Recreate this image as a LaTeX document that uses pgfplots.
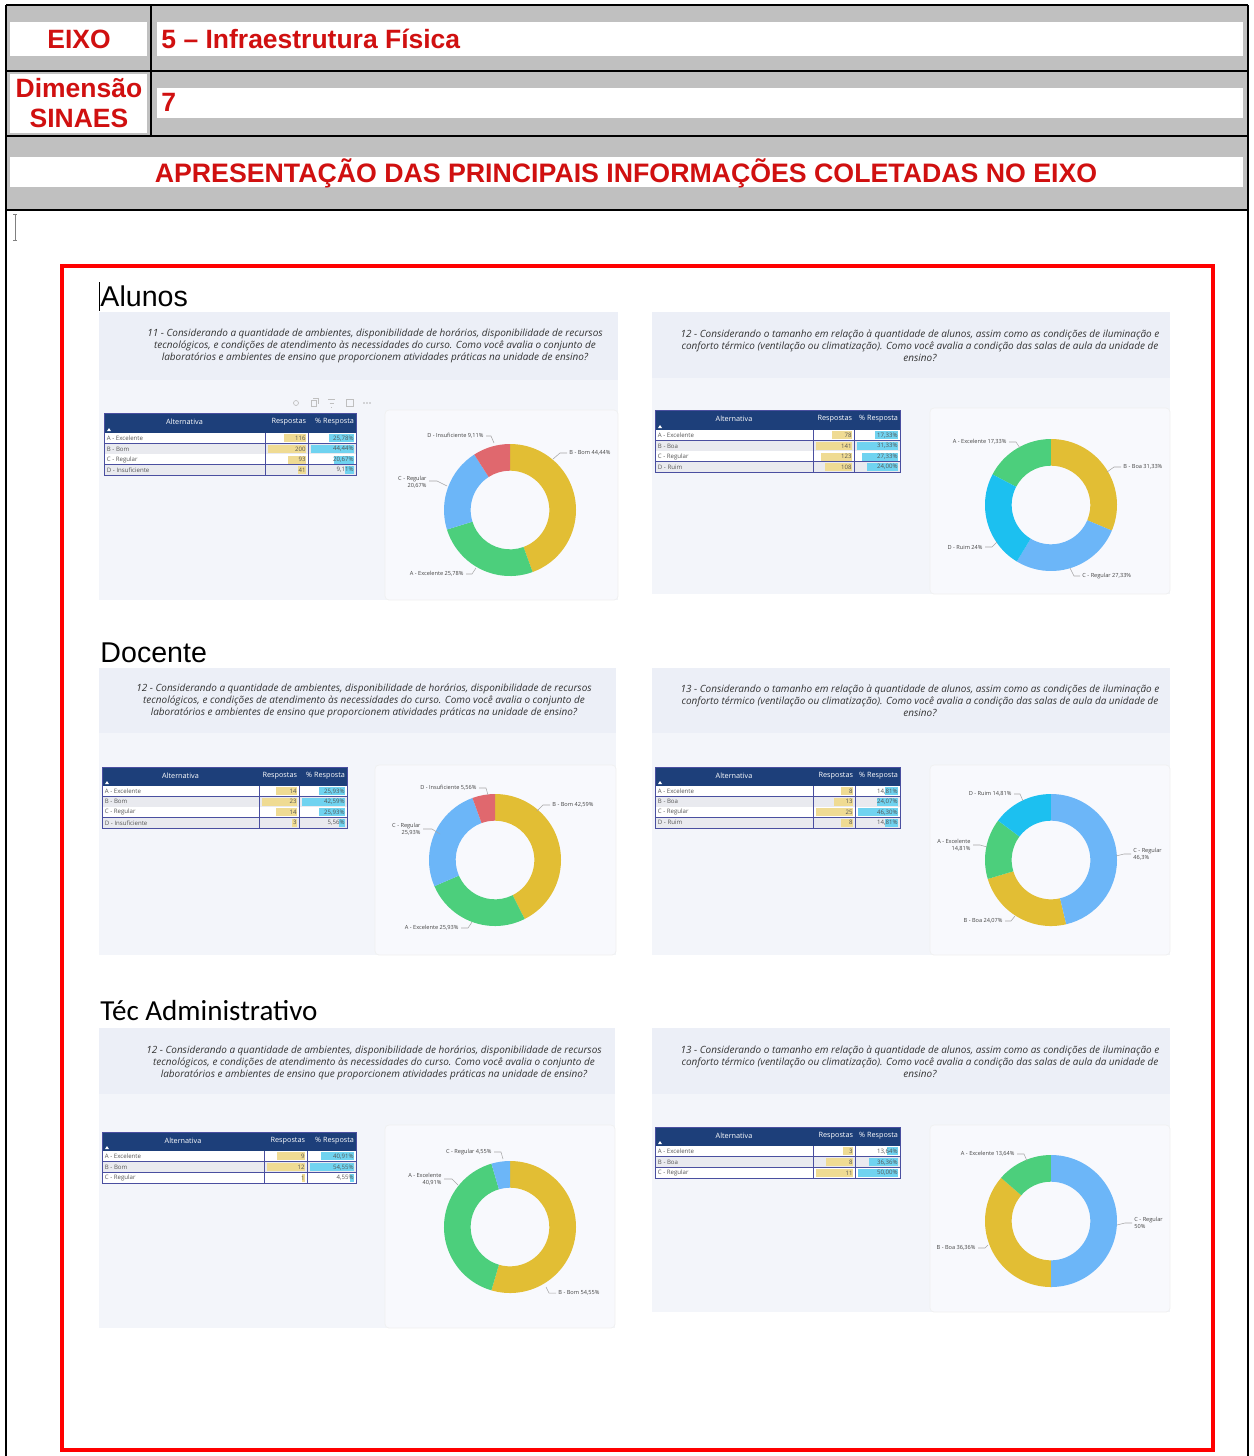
\documentclass[border=0pt]{standalone}
\usepackage{pgfplots}
\pgfplotsset{compat=1.18}
\usepackage{pgfplotstable}
\usepackage{fontspec}
\setmainfont{Liberation Sans}
\newfontfamily\calibri{Carlito}
\newfontfamily\segoe{Open Sans}
\definecolor{hred}{HTML}{D01010}
\definecolor{hgray}{HTML}{C0C0C0}
\definecolor{pband}{HTML}{ECEFF7}
\definecolor{pbody}{HTML}{F3F5FA}
\definecolor{pcard}{HTML}{F8F9FD}
\definecolor{thead}{HTML}{1D3F7A}
\definecolor{tline}{HTML}{4A4FA0}
\definecolor{trow}{HTML}{E9EAEF}
\definecolor{ttext}{HTML}{555555}
\definecolor{cyel}{HTML}{E2BE34}
\definecolor{cgrn}{HTML}{4CCF7C}
\definecolor{cblu}{HTML}{6CB6F8}
\definecolor{cred}{HTML}{E0686E}
\definecolor{ccya}{HTML}{1CC0F0}
\definecolor{byel}{HTML}{EFDB93}
\definecolor{bblu}{HTML}{70D3F0}
\definecolor{qtext}{HTML}{333333}
\definecolor{ltext}{HTML}{444444}

\newcommand\Rout{9.9mm}
\newcommand\Rin{5.9mm}
\pgfdeclareplotmark{wedge}{%
  \pgfpathmoveto{\pgfpointpolar{\angA}{\Rout}}%
  \pgfpatharc{\angA}{\angB}{\Rout}%
  \pgfpathlineto{\pgfpointpolar{\angB}{\Rin}}%
  \pgfpatharc{\angB}{\angA}{\Rin}%
  \pgfpathclose
  \pgfusepathqfill}
\pgfdeclareplotmark{hbar}{%
  \pgfpathrectangle{\pgfpoint{-\barlen pt}{-1.7pt}}{\pgfpoint{\barlen pt}{3.4pt}}%
  \pgfusepathqfill}
\pgfplotsset{
  slice/.style={scatter, only marks, mark=wedge,
    scatter/@pre marker code/.code={\pgfsetfillcolor{#1}},
    scatter/@post marker code/.code={},
    visualization depends on={90-3.6*\thisrow{c0} \as \angA},
    visualization depends on={90-3.6*(\thisrow{c0}+\thisrow{p}) \as \angB}},
  dbar/.style={scatter, only marks, mark=hbar,
    scatter/@pre marker code/.code={\pgfsetfillcolor{#1}},
    scatter/@post marker code/.code={},
    visualization depends on={\thisrow{v}/\thisrow{m}*\thisrow{L}*0.425197 \as \barlen}},
}

% donut slices: centre (px), cumulative start %, share %
\pgfplotstableread{
cx cy c0 p
510 510 0 44.44
1051 505 0 31.33
495 860 0 42.59
1051 860 46.30 24.07
510 1227 0 54.55
1051 1221 50.00 36.36
}\slYel
\pgfplotstableread{
cx cy c0 p
510 510 44.44 25.78
1051 505 82.66 17.33
495 860 42.59 25.93
1051 860 70.37 14.81
510 1227 54.55 40.91
1051 1221 86.36 13.64
}\slGrn
\pgfplotstableread{
cx cy c0 p
510 510 70.22 20.67
1051 505 31.33 27.33
495 860 68.52 25.93
1051 860 0 46.30
510 1227 95.46 4.55
1051 1221 0 50.00
}\slBlu
\pgfplotstableread{
cx cy c0 p
510 510 90.89 9.11
495 860 94.45 5.56
}\slRed
\pgfplotstableread{
cx cy c0 p
1051 505 58.66 24.00
1051 860 85.18 14.81
}\slCya
% data bars: right edge, row centre (px), value, column max, max length (px)
\pgfplotstableread{
x y v m L
306 438.3 116 200 38
306 448.9 200 200 38
306 459.5 93 200 38
306 470.1 41 200 38
852 435.3 78 141 36
852 445.9 141 141 36
852 456.5 123 141 36
852 467.1 108 141 36
297 791.25 14 23 35
297 801.75 23 23 35
297 812.25 14 23 35
297 822.75 3 23 35
853 791.25 8 25 37
853 801.75 13 25 37
853 812.25 25 25 37
853 822.75 8 25 37
305 1156.4 9 12 38
305 1167.2 12 12 38
305 1178.0 1 12 38
853 1151.4 3 11 37
853 1162.2 8 11 37
853 1173.0 11 11 37
}\barsR
\pgfplotstableread{
x y v m L
354 438.3 25.78 44.44 43
354 448.9 44.44 44.44 43
354 459.5 20.67 44.44 43
354 470.1 9.11 44.44 43
898 435.3 17.33 31.33 41
898 445.9 31.33 31.33 41
898 456.5 27.33 31.33 41
898 467.1 24.00 31.33 41
345 791.25 25.93 42.59 43
345 801.75 42.59 42.59 43
345 812.25 25.93 42.59 43
345 822.75 5.56 42.59 43
898 791.25 14.81 46.30 40
898 801.75 24.07 46.30 40
898 812.25 46.30 46.30 40
898 822.75 14.81 46.30 40
354 1156.4 40.91 54.55 44
354 1167.2 54.55 54.55 44
354 1178.0 4.55 54.55 44
898 1151.4 13.64 50.00 40
898 1162.2 36.36 50.00 40
898 1173.0 50.00 50.00 40
}\barsP

\newcommand\hfont{\segoe\fontsize{3.1}{3.6}\selectfont}
\newcommand\rfont{\segoe\fontsize{2.6}{3}\selectfont}
\newcommand\lfont{\segoe\fontsize{2.4}{2.9}\selectfont}
\newcommand\qfont{\segoe\itshape\fontsize{4.25}{5.1}\selectfont}

% table background: x0 x1 x2 x3 ytop yheadbottom rowh nrows
\newcommand\tabback[8]{%
  \fill[thead] (#1,#5) rectangle (#4,#6);
  \fill[white] ({#1+3},{#6-2}) -- ({#1+7},{#6-2}) -- ({#1+5},{#6-5}) -- cycle;
  \foreach \i in {1,...,#8}{%
    \pgfmathsetmacro\ya{#6+(\i-1)*#7}%
    \pgfmathsetmacro\yb{#6+\i*#7}%
    \ifodd\i\relax \fill[white] (#1,\ya) rectangle (#4,\yb);\else \fill[trow] (#1,\ya) rectangle (#4,\yb);\fi
    \draw[tline, line width=0.12mm] (#1,\yb) -- (#4,\yb);
  }
  \pgfmathsetmacro\yend{#6+#8*#7}
  \draw[tline, line width=0.12mm] (#1,#5) rectangle (#4,\yend);
  \draw[tline, line width=0.12mm] (#2,#6) -- (#2,\yend) (#3,#6) -- (#3,\yend);
}
% table text: x0 x1 x2 x3 ytop yheadbottom rowh rows
\newcommand\tabtext[8]{%
  \node[font=\hfont, text=white, inner sep=0pt] at ({(#1+#2)/2},{(#5+#6)/2-1}) {Alternativa};
  \node[font=\hfont, text=white, inner sep=0pt, anchor=east] at ({#3-1.5},{(#5+#6)/2-1}) {Respostas};
  \node[font=\hfont, text=white, inner sep=0pt, anchor=east] at ({#4-1.5},{(#5+#6)/2-1}) {\% Resposta};
  \foreach \lab/\r/\p [count=\i] in {#8}{%
    \pgfmathsetmacro\yc{#6+(\i-0.5)*#7}%
    \node[font=\rfont, text=ttext, inner sep=0pt, anchor=west] at ({#1+2.5},\yc) {\lab};
    \node[font=\rfont, text=ttext, inner sep=0pt, anchor=east] at ({#3-2},\yc) {\r};
    \node[font=\rfont, text=ttext, inner sep=0pt, anchor=east] at ({#4-2},\yc) {\p\%};
  }
}
\newcommand\panel[5]{% x0 x1 y0 yband y1
  \fill[pbody] (#1,#3) rectangle (#2,#5);
  \fill[pband] (#1,#3) rectangle (#2,#4);
}
\newcommand\card[4]{\fill[pcard, draw=black!6, line width=0.1mm, rounded corners=0.6mm] (#1,#3) rectangle (#2,#4);}

\begin{document}
\begin{tikzpicture}
\begin{scope}[x=0.15mm,y=-0.15mm]
\useasboundingbox (0,0) rectangle (1254,1456);
\fill[white] (0,0) rectangle (1254,1456);
% header table
\fill[hgray] (6,5) rectangle (1248,210);
\fill[white] (10,22) rectangle (147,56);
\fill[white] (157,22) rectangle (1243,56);
\fill[white] (10,74) rectangle (147,133);
\fill[white] (157,88) rectangle (1243,118);
\fill[white] (10,157) rectangle (1243,187);
\draw[black, line width=0.3mm] (6,5) -- (1248,5) (6,71) -- (1248,71) (6,136) -- (1248,136) (6,210) -- (1248,210);
\draw[black, line width=0.3mm] (151,5) -- (151,136);
\draw[black, line width=0.3mm] (6,5) -- (6,1456) (1248,5) -- (1248,1456);
% cursors
\draw[gray, line width=0.12mm] (15,214) -- (15,240) (13,214) -- (17,214) (13,240) -- (17,240);
\draw[black, line width=0.12mm] (99,282) -- (99,311);
% red frame
\draw[red, line width=0.6mm] (62,266) rectangle (1213,1450);
% panels
\panel{99}{618}{312}{380}{600}
\panel{652}{1170}{312}{378}{594}
\panel{99}{616}{668}{733}{955}
\panel{652}{1170}{668}{733}{955}
\panel{99}{615}{1028}{1094}{1328}
\panel{652}{1170}{1028}{1094}{1312}
\card{385}{618}{410}{600}
\card{930}{1170}{408}{594}
\card{375}{616}{765}{955}
\card{930}{1170}{765}{955}
\card{385}{615}{1125}{1328}
\card{930}{1170}{1125}{1312}
% icons above first table
\draw[black!25, line width=0.1mm] (296,403) circle (2.5);
\draw[black!25, line width=0.1mm] (311,400) rectangle (316,406) (313,398) -- (318,398) -- (318,404);
\draw[black!25, line width=0.1mm] (328,399) -- (335,399) (329.5,403) -- (333.5,403) (331,407) -- (332,407);
\draw[black!25, line width=0.1mm] (346,399) rectangle (353,406);
\fill[black!30] (364,403) circle (0.8) (367,403) circle (0.8) (370,403) circle (0.8);
% tables
\tabback{104}{265}{308}{356}{413}{433}{10.6}{4}
\tabback{655}{813}{854}{900}{410}{430}{10.6}{4}
\tabback{102}{259}{299}{347}{767}{786}{10.5}{4}
\tabback{655}{813}{855}{900}{767}{786}{10.5}{4}
\tabback{102}{264}{307}{356}{1132}{1151}{10.8}{3}
\tabback{655}{813}{855}{900}{1127}{1146}{10.8}{3}
\end{scope}

\begin{axis}[at={(0,0)}, anchor=north west, hide axis, scale only axis,
  x=0.15mm, y=0.15mm, y dir=reverse, xmin=0, xmax=1254, ymin=0, ymax=1456, clip=false]
\addplot[slice=cyel] table[x=cx,y=cy] {\slYel};
\addplot[slice=cgrn] table[x=cx,y=cy] {\slGrn};
\addplot[slice=cblu] table[x=cx,y=cy] {\slBlu};
\addplot[slice=cred] table[x=cx,y=cy] {\slRed};
\addplot[slice=ccya] table[x=cx,y=cy] {\slCya};
\addplot[dbar=byel] table[x=x,y=y] {\barsR};
\addplot[dbar=bblu] table[x=x,y=y] {\barsP};
\end{axis}

\begin{scope}[x=0.15mm,y=-0.15mm]
% header text
\begin{scope}[font=\bfseries\fontsize{11.3}{13}\selectfont, text=hred, inner sep=0pt]
\node[anchor=base] at (79,48) {EIXO};
\node[anchor=base west] at (161,48) {5 – Infraestrutura Física};
\node[anchor=base] at (79,97) {Dimensão};
\node[anchor=base] at (79,127) {SINAES};
\node[anchor=base west] at (161,111) {7};
\node[anchor=base] at (626,182) {\fontsize{11.4}{13}\selectfont APRESENTAÇÃO DAS PRINCIPAIS INFORMAÇÕES COLETADAS NO EIXO};
\end{scope}
% section titles
\node[anchor=base west, inner sep=0pt, font=\fontsize{12.2}{14}\selectfont] at (100,306) {Alunos};
\node[anchor=base west, inner sep=0pt, font=\fontsize{12.2}{14}\selectfont] at (100,662) {Docente};
\node[anchor=base west, inner sep=0pt, font=\calibri\fontsize{12.4}{14}\selectfont] at (100,1020) {Téc Administrativo};
% questions
\begin{scope}[font=\qfont, text=qtext, align=center, inner sep=0pt]
\node at (375,346) {11 - Considerando a quantidade de ambientes, disponibilidade de horários, disponibilidade de recursos\\tecnológicos, e condições de atendimento às necessidades do curso. Como você avalia o conjunto de\\laboratórios e ambientes de ensino que proporcionem atividades práticas na unidade de ensino?};
\node at (920,346) {12 - Considerando o tamanho em relação à quantidade de alunos, assim como as condições de iluminação e\\conforto térmico (ventilação ou climatização). Como você avalia a condição das salas de aula da unidade de\\ensino?};
\node at (364,701) {12 - Considerando a quantidade de ambientes, disponibilidade de horários, disponibilidade de recursos\\tecnológicos, e condições de atendimento às necessidades do curso. Como você avalia o conjunto de\\laboratórios e ambientes de ensino que proporcionem atividades práticas na unidade de ensino?};
\node at (920,701) {13 - Considerando o tamanho em relação à quantidade de alunos, assim como as condições de iluminação e\\conforto térmico (ventilação ou climatização). Como você avalia a condição das salas de aula da unidade de\\ensino?};
\node at (374,1063) {12 - Considerando a quantidade de ambientes, disponibilidade de horários, disponibilidade de recursos\\tecnológicos, e condições de atendimento às necessidades do curso. Como você avalia o conjunto de\\laboratórios e ambientes de ensino que proporcionem atividades práticas na unidade de ensino?};
\node at (920,1062) {13 - Considerando o tamanho em relação à quantidade de alunos, assim como as condições de iluminação e\\conforto térmico (ventilação ou climatização). Como você avalia a condição das salas de aula da unidade de\\ensino?};
\end{scope}
% table texts
\tabtext{104}{265}{308}{356}{413}{433}{10.6}{A - Excelente/116/{25,78}, B - Bom/200/{44,44}, C - Regular/93/{20,67}, D - Insuficiente/41/{9,11}}
\tabtext{655}{813}{854}{900}{410}{430}{10.6}{A - Excelente/78/{17,33}, B - Boa/141/{31,33}, C - Regular/123/{27,33}, D - Ruim/108/{24,00}}
\tabtext{102}{259}{299}{347}{767}{786}{10.5}{A - Excelente/14/{25,93}, B - Bom/23/{42,59}, C - Regular/14/{25,93}, D - Insuficiente/3/{5,56}}
\tabtext{655}{813}{855}{900}{767}{786}{10.5}{A - Excelente/8/{14,81}, B - Boa/13/{24,07}, C - Regular/25/{46,30}, D - Ruim/8/{14,81}}
\tabtext{102}{264}{307}{356}{1132}{1151}{10.8}{A - Excelente/9/{40,91}, B - Bom/12/{54,55}, C - Regular/1/{4,55}}
\tabtext{655}{813}{855}{900}{1127}{1146}{10.8}{A - Excelente/3/{13,64}, B - Boa/8/{36,36}, C - Regular/11/{50,00}}
% donut labels and leader lines
\begin{scope}[font=\lfont, text=ltext, inner sep=0pt]
\draw[black!35, line width=0.08mm] (486,436)--(491,436)--(494,443) (567,453)--(560,453)--(553,459) (429,481)--(437,481)--(447,486) (466,574)--(472,574)--(476,568);
\node[anchor=east] at (484,436) {D - Insuficiente 9,11\%};
\node[anchor=west] at (569,453) {B - Bom 44,44\%};
\node[anchor=east, align=right] at (427,482) {C - Regular\\20,67\%};
\node[anchor=east] at (464,574) {A - Excelente 25,78\%};
\draw[black!35, line width=0.08mm] (1009,442)--(1016,442)--(1020,448) (1121,467)--(1114,467)--(1107,472) (985,547)--(992,547)--(997,542) (1080,576)--(1074,576)--(1070,568);
\node[anchor=east] at (1007,442) {A - Excelente 17,33\%};
\node[anchor=west] at (1123,467) {B - Boa 31,33\%};
\node[anchor=east] at (983,547) {D - Ruim 24\%};
\node[anchor=west] at (1082,576) {C - Regular 27,33\%};
\draw[black!35, line width=0.08mm] (479,788)--(486,788)--(488,795) (550,805)--(543,805)--(537,811) (423,829)--(432,829)--(440,834) (461,928)--(468,928)--(472,922);
\node[anchor=east] at (477,788) {D - Insuficiente 5,56\%};
\node[anchor=west] at (552,805) {B - Bom 42,59\%};
\node[anchor=east, align=right] at (421,829) {C - Regular\\25,93\%};
\node[anchor=east] at (459,928) {A - Excelente 25,93\%};
\draw[black!35, line width=0.08mm] (1014,794)--(1020,794)--(1023,801) (973,845)--(980,845)--(987,847) (1131,854)--(1124,854)--(1116,856) (1005,921)--(1011,921)--(1015,916);
\node[anchor=east] at (1012,794) {D - Ruim 14,81\%};
\node[anchor=east, align=right] at (971,845) {A - Excelente\\14,81\%};
\node[anchor=west, align=left] at (1133,854) {C - Regular\\46,3\%};
\node[anchor=east] at (1003,921) {B - Boa 24,07\%};
\draw[black!35, line width=0.08mm] (494,1152)--(501,1152)--(503,1159) (444,1179)--(452,1179)--(458,1185) (556,1293)--(549,1293)--(546,1287);
\node[anchor=east] at (492,1152) {C - Regular 4,55\%};
\node[anchor=east, align=right] at (442,1179) {A - Excelente\\40,91\%};
\node[anchor=west] at (558,1293) {B - Bom 54,55\%};
\draw[black!35, line width=0.08mm] (1017,1154)--(1024,1154)--(1027,1161) (1132,1223)--(1125,1223)--(1117,1225) (978,1248)--(985,1248)--(988,1245);
\node[anchor=east] at (1015,1154) {A - Excelente 13,64\%};
\node[anchor=west, align=left] at (1134,1223) {C - Regular\\50\%};
\node[anchor=east] at (976,1248) {B - Boa 36,36\%};
\end{scope}
\end{scope}
\end{tikzpicture}
\end{document}
